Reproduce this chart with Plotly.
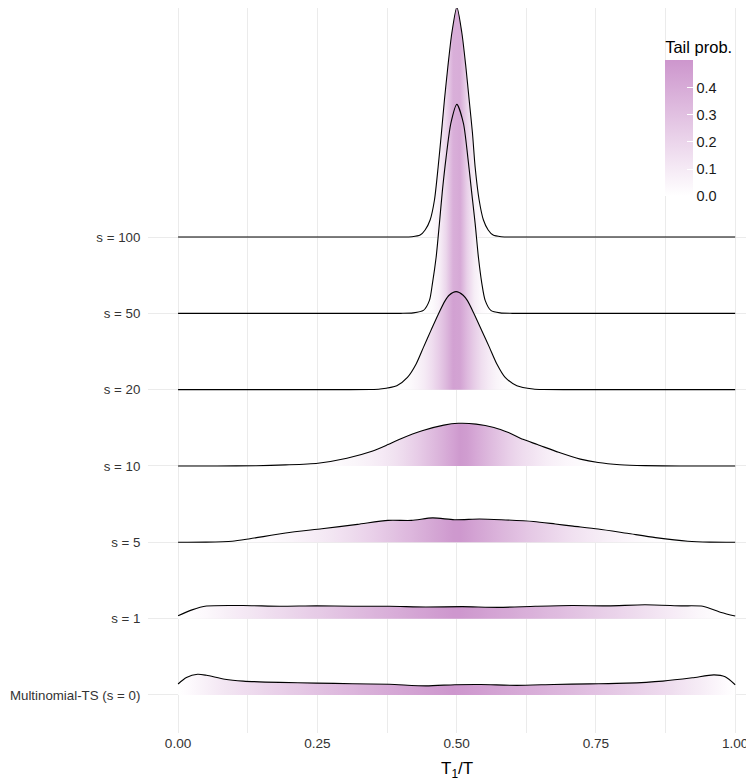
import numpy as np
import plotly.graph_objects as go

# ---------------- data (ridge heights in category units) ----------------
labels = ["Multinomial-TS (s = 0)", "s = 1", "s = 5", "s = 10", "s = 20", "s = 50", "s = 100"]

x_s100 = [0, 0.1, 0.2, 0.3, 0.36, 0.4, 0.42, 0.4345, 0.4434, 0.4524, 0.4602, 0.4668, 0.4727, 0.4781,
          0.4842, 0.4914, 0.5004, 0.5094, 0.5166, 0.5225, 0.5284, 0.5332, 0.5404, 0.5481, 0.5566,
          0.5655, 0.58, 0.6, 0.64, 0.7, 0.8, 0.9, 1]
h_s100 = [0, 0, 0, 0, 0, 0, 0.004, 0.025, 0.092, 0.223, 0.485, 0.917, 1.363, 1.795,
          2.227, 2.673, 3.013, 2.673, 2.227, 1.795, 1.363, 0.917, 0.485, 0.223, 0.092,
          0.025, 0.004, 0, 0, 0, 0, 0, 0]

x_s50 = [0, 0.1, 0.2, 0.3, 0.36, 0.4, 0.4219, 0.4404, 0.4512, 0.4566, 0.4632, 0.4691, 0.4745, 0.4811,
         0.4896, 0.5004, 0.5122, 0.5201, 0.5266, 0.5332, 0.5391, 0.5452, 0.5512, 0.5614, 0.5781,
         0.6, 0.64, 0.7, 0.8, 0.9, 1]
h_s50 = [0, 0, 0, 0, 0, 0, 0.006, 0.039, 0.170, 0.393, 0.734, 1.179, 1.611, 2.044,
         2.489, 2.738, 2.489, 2.044, 1.611, 1.179, 0.734, 0.393, 0.170, 0.039, 0.006,
         0, 0, 0, 0, 0, 0]

x_s20 = [0, 0.1, 0.2, 0.26, 0.3, 0.3447, 0.3627, 0.3926, 0.4117, 0.4273, 0.4404, 0.4537, 0.4673,
         0.4794, 0.4865, 0.4991, 0.5117, 0.5194, 0.5314, 0.5452, 0.5589, 0.5722, 0.5871, 0.6081,
         0.6373, 0.6553, 0.7, 0.74, 0.8, 0.9, 1]
h_s20 = [0, 0, 0, 0, 0, 0.002, 0.009, 0.052, 0.161, 0.337, 0.554, 0.773, 0.992,
         1.166, 1.237, 1.284, 1.237, 1.166, 0.992, 0.773, 0.554, 0.337, 0.161, 0.052,
         0.009, 0.002, 0, 0, 0, 0, 0]

x_s10 = [0, 0.07, 0.14, 0.193, 0.251, 0.303, 0.348, 0.377, 0.400, 0.438, 0.477, 0.503, 0.535,
         0.567, 0.593, 0.619, 0.645, 0.683, 0.722, 0.754, 0.793, 0.838, 0.9, 0.95, 1]
h_s10 = [0, 0, 0.004, 0.014, 0.036, 0.101, 0.192, 0.281, 0.357, 0.461, 0.535, 0.559, 0.549,
         0.505, 0.438, 0.349, 0.281, 0.179, 0.090, 0.045, 0.017, 0.005, 0, 0, 0]

x_s5 = [0, 0.05, 0.097, 0.129, 0.193, 0.258, 0.322, 0.377, 0.419, 0.457, 0.496, 0.541, 0.580,
        0.638, 0.677, 0.709, 0.754, 0.806, 0.857, 0.915, 0.954, 1]
h_s5 = [0, 0.002, 0.014, 0.047, 0.122, 0.178, 0.235, 0.287, 0.287, 0.320, 0.296, 0.305, 0.296,
        0.273, 0.240, 0.212, 0.174, 0.118, 0.062, 0.014, 0.002, 0]

x_s1 = [0, 0.025, 0.051, 0.117, 0.182, 0.248, 0.313, 0.379, 0.445, 0.510, 0.576, 0.641,
        0.707, 0.772, 0.838, 0.903, 0.942, 0.975, 1.0]
h_s1 = [0.038, 0.115, 0.165, 0.172, 0.162, 0.168, 0.162, 0.162, 0.153, 0.157, 0.148, 0.162,
        0.172, 0.168, 0.182, 0.168, 0.162, 0.081, 0.034]

x_s0 = [0, 0.015, 0.035, 0.051, 0.084, 0.117, 0.182, 0.248, 0.313, 0.379, 0.445, 0.497,
        0.543, 0.608, 0.674, 0.739, 0.805, 0.870, 0.923, 0.962, 0.982, 1.0]
h_s0 = [0.144, 0.229, 0.272, 0.258, 0.206, 0.182, 0.165, 0.156, 0.148, 0.140, 0.120, 0.135,
        0.138, 0.126, 0.138, 0.146, 0.155, 0.182, 0.225, 0.263, 0.238, 0.134]

x_ticks = [0, 0.25, 0.5, 0.75, 1.0]
x_ticktext = ["0.00", "0.25", "0.50", "0.75", "1.00"]
cb_ticks = [0, 0.1, 0.2, 0.3, 0.4]
cb_ticktext = ["0.0", "0.1", "0.2", "0.3", "0.4"]
tail_max = 0.5

# ---------------- styling ----------------
LOW = (255, 255, 255)
HIGH = (205, 150, 205)
GRID = "#EBEBEB"
FONT = "Liberation Sans"


def mix(t):
    t = min(max(t, 0.0), 1.0)
    r, g, b = (round(LOW[k] + (HIGH[k] - LOW[k]) * t) for k in range(3))
    return f"rgb({r},{g},{b})"


def tail_colorscale(xs, hs, n=80):
    xs = np.asarray(xs, float)
    hs = np.asarray(hs, float)
    fine = np.linspace(xs[0], xs[-1], 1200)
    dens = np.interp(fine, xs, hs)
    cdf = np.concatenate([[0], np.cumsum((dens[1:] + dens[:-1]) / 2 * np.diff(fine))])
    cdf /= cdf[-1]
    tail = np.minimum(cdf, 1 - cdf)
    pos = np.linspace(0, 1, n)
    tv = np.interp(pos, (fine - fine[0]) / (fine[-1] - fine[0]), tail)
    return [[float(p), mix(t / tail_max)] for p, t in zip(pos, tv)]


ridges = [
    (7, x_s100, h_s100),
    (6, x_s50, h_s50),
    (5, x_s20, h_s20),
    (4, x_s10, h_s10),
    (3, x_s5, h_s5),
    (2, x_s1, h_s1),
    (1, x_s0, h_s0),
]

fig = go.Figure()
for base, xs, hs in ridges:
    fig.add_trace(go.Scatter(x=xs, y=[base] * len(xs), mode="lines",
                             line=dict(width=0, color="rgba(0,0,0,0)"),
                             hoverinfo="skip", showlegend=False))
    fig.add_trace(go.Scatter(
        x=xs, y=[base + h for h in hs], mode="lines",
        line=dict(color="black", width=1.1, shape="spline", smoothing=0.7),
        fill="tonexty",
        fillgradient=dict(type="horizontal", colorscale=tail_colorscale(xs, hs),
                          start=xs[0], stop=xs[-1]),
        hoverinfo="skip", showlegend=False))

# colour bar legend
fig.add_trace(go.Scatter(
    x=[0.5], y=[-5], mode="markers", hoverinfo="skip", showlegend=False,
    marker=dict(color=[0], cmin=0, cmax=tail_max, size=1,
                colorscale=[[0, mix(0)], [1, mix(1)]], showscale=True,
                colorbar=dict(
                    title=dict(text="Tail prob.", side="top",
                               font=dict(family=FONT, size=16.5, color="black")),
                    thickness=28, thicknessmode="pixels",
                    len=159, lenmode="pixels",
                    x=0.862, xanchor="left", y=0.9595, yanchor="top",
                    xpad=0, ypad=0, outlinewidth=0,
                    tickvals=cb_ticks, ticktext=cb_ticktext,
                    ticks="inside", tickcolor="white", ticklen=6, tickwidth=1,
                    tickfont=dict(family=FONT, size=14.5, color="#1a1a1a"),
                    bgcolor="rgba(0,0,0,0)"))))

# x-axis title (centred on the data range, as in the reference)
fig.add_annotation(x=0.5, xref="x", y=-0.051, yref="paper", yanchor="middle",
                   text="T<sub>1</sub>/T", showarrow=False,
                   font=dict(family=FONT, size=17, color="black"))

# the page body adds an 8 px offset, so the figure is sized to the remaining area
fig.update_layout(
    width=746, height=774,
    margin=dict(l=140, r=6, t=0, b=49, autoexpand=False),
    plot_bgcolor="white", paper_bgcolor="white",
    font=dict(family=FONT, color="#1a1a1a"),
)
fig.update_xaxes(
    range=[-0.054, 1.023], tickvals=x_ticks, ticktext=x_ticktext,
    showgrid=True, gridcolor=GRID, gridwidth=1.1, zeroline=False,
    minor=dict(dtick=0.125, tick0=0, showgrid=True, gridcolor=GRID, gridwidth=0.55),
    ticks="", ticklabelstandoff=0,
    tickfont=dict(family=FONT, size=13.6, color="#333333"),
    showline=False, automargin=False,
)
fig.update_yaxes(
    range=[0.502, 10.0], tickvals=list(range(1, 8)), ticktext=labels,
    showgrid=True, gridcolor=GRID, gridwidth=1.1, zeroline=False,
    ticks="outside", ticklen=4, tickcolor="rgba(0,0,0,0)",
    tickfont=dict(family=FONT, size=13.3, color="#333333"),
    showline=False, automargin=False,
)

fig.write_html("out.html")
